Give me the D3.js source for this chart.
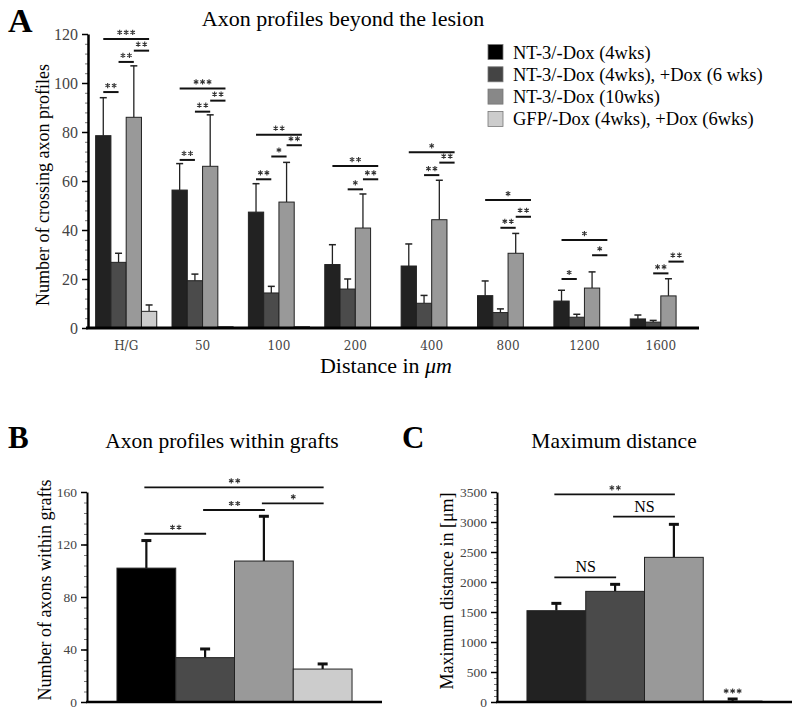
<!DOCTYPE html>
<html>
<head>
<meta charset="utf-8">
<script src="https://cdn.jsdelivr.net/npm/d3@7"></script>
<style>
  body { margin: 0; background: #fff; }
  svg { font-family: "Liberation Serif", "Times New Roman", serif; }
  .tick text { fill: #444; font-family: "Liberation Serif", serif; }
</style>
</head>
<body>
<svg id="fig" width="800" height="714"></svg>
<script>
// ---- dados ----
const distancias = ["H/G", "50", "100", "200", "400", "800", "1200", "1600"];
const grupos = ["NT-3/-Dox (4wks)", "NT-3/-Dox (4wks), +Dox (6 wks)", "NT-3/-Dox (10wks)", "GFP/-Dox (4wks), +Dox (6wks)"];
const coresBarras = ["#222222", "#4b4b4b", "#999999", "#cccccc"];
const coresLegenda = ["#000000", "#444444", "#888888", "#cccccc"];

// painel A: média e erro (apenas para cima)
const mediaNT3_4 = [78.5, 56.3, 47.3, 25.9, 25.3, 13.2, 11.0, 3.7];
const erroNT3_4 = [15.5, 10.8, 11.6, 8.1, 9.0, 6.0, 4.4, 1.6];
const mediaNT3_4_6 = [26.8, 19.3, 14.3, 15.9, 10.1, 6.3, 4.4, 2.4];
const erroNT3_4_6 = [3.7, 2.7, 2.7, 4.1, 3.2, 1.5, 1.2, 0.7];
const mediaNT3_10 = [86.0, 66.0, 51.4, 40.8, 44.2, 30.5, 16.3, 13.1];
const erroNT3_10 = [21.0, 21.0, 16.2, 13.9, 16.1, 8.1, 6.6, 7.0];
const mediaGFP = [6.8, 0.5, 0.5, 0, 0, 0, 0, 0];
const erroGFP = [2.6, 0.3, 0.3, 0, 0, 0, 0, 0];

// [distância, barra de, barra até, altura, rótulo]
const colchetesA = [
  [0, 0, 1, 96.3, "**"], [0, 1, 2, 108.6, "**"], [0, 2, 3, 113.2, "**"], [0, 0, 3, 118, "***"],
  [1, 0, 1, 68.6, "**"], [1, 1, 2, 88.3, "**"], [1, 2, 3, 92.8, "**"], [1, 0, 3, 97.8, "***"],
  [2, 0, 1, 60.7, "**"], [2, 1, 2, 70, "*"], [2, 2, 3, 74.6, "**"], [2, 0, 3, 78.9, "**"],
  [3, 1, 2, 56.6, "*"], [3, 2, 3, 60.7, "**"], [3, 0, 3, 66.1, "**"],
  [4, 1, 2, 62.4, "**"], [4, 2, 3, 67.5, "**"], [4, 0, 3, 71.7, "*"],
  [5, 1, 2, 40.9, "**"], [5, 2, 3, 45.4, "**"], [5, 0, 3, 52.2, "*"],
  [6, 0, 1, 20, "*"], [6, 2, 3, 29.7, "*"], [6, 0, 3, 35.9, "*"],
  [7, 1, 2, 22.3, "**"], [7, 2, 3, 27.1, "**"]
];

// painel B
const mediaB = [102, 33.8, 107.4, 25.1];
const erroB = [21, 6.6, 34.1, 3.9];
const colchetesB = [[0, 1, 128.2, "**"], [1, 2, 146.3, "**"], [2, 3, 151.4, "*"], [0, 3, 163.6, "**"]];

// painel C
const mediaC = [1522, 1844, 2411, 15];
const erroC = [122, 117, 550, 35];
const colchetesC = [[0, 2, 3461, "**"], [1, 2, 3089, "NS"], [0, 1, 2078, "NS"]];

const svg = d3.select("#fig");

// eixo y com marcas maiores e menores
function eixoY(g, y, x0, maiores, menores, larg, tamFonte) {
  g.append("g")
    .attr("transform", `translate(${x0},0)`)
    .call(d3.axisLeft(y).tickValues(menores).tickSize(3).tickFormat(""))
    .call(s => s.select(".domain").remove())
    .call(s => s.selectAll("line").attr("stroke", "#555").attr("stroke-width", 0.8));
  g.append("g")
    .attr("transform", `translate(${x0},0)`)
    .call(d3.axisLeft(y).tickValues(maiores).tickSize(6).tickSizeOuter(0).tickFormat(d3.format("d")))
    .call(s => s.select(".domain").attr("stroke-width", larg))
    .call(s => s.selectAll(".tick line").attr("stroke-width", 1.5))
    .call(s => s.selectAll("text").attr("font-size", tamFonte).attr("dx", "-1"));
}

// asteriscos desenhados como pequenos traços (ficam cinza, sem franjas de cor)
function estrelas(g, x, y, rotulo, tam) {
  if (rotulo === "NS") {
    g.append("text").attr("x", x).attr("y", y).attr("text-anchor", "middle")
      .attr("font-size", tam).text(rotulo);
    return;
  }
  const n = rotulo.length, passo = 6.5, r = 2.6;
  const p = d3.path();
  d3.range(n).forEach(i => {
    const cx = x + (i - (n - 1) / 2) * passo, cy = y - 4;
    [90, 30, 150].forEach(a => {
      const rad = a * Math.PI / 180;
      p.moveTo(cx - r * Math.cos(rad), cy - r * Math.sin(rad));
      p.lineTo(cx + r * Math.cos(rad), cy + r * Math.sin(rad));
    });
  });
  g.append("path").attr("d", p.toString()).attr("stroke", "#333").attr("stroke-width", 1.1).attr("fill", "none");
}

// ================= Painel A =================
const gA = svg.append("g");
const yA = d3.scaleLinear().domain([0, 120]).range([328, 34]);
const xA = d3.scaleBand().domain(distancias).range([88, 699]).paddingInner(0.2).paddingOuter(0.1);
const xAi = d3.scaleBand().domain(d3.range(4)).range([0, xA.bandwidth()]);

const medias = [mediaNT3_4, mediaNT3_4_6, mediaNT3_10, mediaGFP];
const erros = [erroNT3_4, erroNT3_4_6, erroNT3_10, erroGFP];

const linhasA = distancias.flatMap((d, i) => d3.range(4).map(k => ({
  d, k, m: medias[k][i], e: erros[k][i]
})));

// barras de erro
gA.append("g").selectAll("g")
  .data(linhasA.filter(r => r.e > 0.5))
  .join("g")
  .each(function (r) {
    const cx = xA(r.d) + xAi(r.k) + xAi.bandwidth() / 2;
    const s = d3.select(this);
    s.append("line").attr("x1", cx).attr("x2", cx)
      .attr("y1", yA(r.m)).attr("y2", yA(r.m + r.e))
      .attr("stroke", "#222").attr("stroke-width", 1.3);
    s.append("line").attr("x1", cx - 3.5).attr("x2", cx + 3.5)
      .attr("y1", yA(r.m + r.e)).attr("y2", yA(r.m + r.e))
      .attr("stroke", "#222").attr("stroke-width", 1.5);
  });

gA.append("g").selectAll("rect")
  .data(linhasA.filter(r => r.m > 0))
  .join("rect")
  .attr("x", r => xA(r.d) + xAi(r.k))
  .attr("y", r => yA(r.m))
  .attr("width", xAi.bandwidth())
  .attr("height", r => yA(0) - yA(r.m))
  .attr("fill", r => coresBarras[r.k])
  .attr("stroke", "#222")
  .attr("stroke-width", 1);

// colchetes de significância
colchetesA.forEach(([i, a, b, v, rot]) => {
  const x1 = xA(distancias[i]) + xAi(a) + xAi.bandwidth() / 2;
  const x2 = xA(distancias[i]) + xAi(b) + xAi.bandwidth() / 2;
  gA.append("line").attr("x1", x1).attr("x2", x2)
    .attr("y1", yA(v)).attr("y2", yA(v))
    .attr("stroke", "#111").attr("stroke-width", 2);
  estrelas(gA, (x1 + x2) / 2, yA(v) - 2.5, rot, 11);
});

eixoY(gA, yA, 88, d3.range(0, 121, 20), d3.range(0, 121, 4), 2.5, 16);

gA.append("g")
  .attr("transform", `translate(0,${yA(0)})`)
  .call(d3.axisBottom(xA).tickSize(0).tickSizeOuter(0))
  .call(s => s.select(".domain").attr("stroke-width", 3).attr("d", "M86,0H699"))
  .call(s => s.selectAll("text").attr("dy", "1.6em").style("font-family", "DejaVu Serif").attr("font-size", 12));

gA.append("text").attr("x", 8).attr("y", 32).attr("font-size", 34).attr("font-weight", "bold").text("A");
gA.append("text").attr("x", 343).attr("y", 26).attr("text-anchor", "middle").attr("font-size", 22).text("Axon profiles beyond the lesion");
gA.append("text")
  .attr("transform", "translate(49,185) rotate(-90)")
  .attr("text-anchor", "middle").attr("font-size", 18)
  .text("Number of crossing axon profiles");
const rotX = gA.append("text").attr("x", 386).attr("y", 373).attr("text-anchor", "middle").attr("font-size", 22);
rotX.append("tspan").text("Distance in ");
rotX.append("tspan").attr("font-style", "italic").text("μm");

// legenda
const leg = gA.append("g").selectAll("g").data(grupos).join("g")
  .attr("transform", (d, i) => `translate(488,${52 + i * 22.3})`);
leg.append("rect").attr("x", 0).attr("y", -7.5).attr("width", 15).attr("height", 15)
  .attr("fill", (d, i) => coresLegenda[i]).attr("stroke", "#777").attr("stroke-width", 0.8);
leg.append("text").attr("x", 25).attr("y", 6.5).attr("font-size", 18.5).text(d => d);

// ================= Painéis B e C =================
function painelBarras(cfg) {
  const g = svg.append("g");
  const y = d3.scaleLinear().domain([0, cfg.max]).range([702, 492]);
  const x = d3.scaleBand().domain(d3.range(4)).range([cfg.x0, cfg.x1]).paddingInner(0).paddingOuter(0.51);
  const cx = i => x(i) + x.bandwidth() / 2;

  g.selectAll(".err").data(cfg.medias).join("g").each(function (m, i) {
    const s = d3.select(this);
    const topo = y(m + cfg.erros[i]);
    s.append("line").attr("x1", cx(i)).attr("x2", cx(i)).attr("y1", y(m)).attr("y2", topo)
      .attr("stroke", "#111").attr("stroke-width", 2.2);
    s.append("line").attr("x1", cx(i) - 5).attr("x2", cx(i) + 5).attr("y1", topo).attr("y2", topo)
      .attr("stroke", "#111").attr("stroke-width", 3);
  });

  g.selectAll("rect").data(cfg.medias).join("rect")
    .attr("x", (d, i) => x(i)).attr("y", d => y(d))
    .attr("width", x.bandwidth()).attr("height", d => y(0) - y(d))
    .attr("fill", (d, i) => cfg.cores[i]).attr("stroke", "#222").attr("stroke-width", 1);

  cfg.colchetes.forEach(([a, b, v, rot]) => {
    g.append("line").attr("x1", cx(a) - 2).attr("x2", cx(b) + 1).attr("y1", y(v)).attr("y2", y(v))
      .attr("stroke", "#111").attr("stroke-width", 1.8);
    estrelas(g, (cx(a) + cx(b)) / 2, y(v) - (rot === "NS" ? 5 : 2.5), rot, rot === "NS" ? 16 : 11);
  });

  eixoY(g, y, cfg.x0, cfg.maiores, cfg.menores, 2, 13.5);

  g.append("line").attr("x1", cfg.x0 - 1).attr("x2", cfg.x1).attr("y1", y(0)).attr("y2", y(0))
    .attr("stroke", "#000").attr("stroke-width", 2.5);

  g.append("text").attr("x", cfg.lx).attr("y", 448).attr("font-size", 31).attr("font-weight", "bold").text(cfg.letra);
  g.append("text").attr("x", cfg.tx).attr("y", 448).attr("text-anchor", "middle").attr("font-size", 21.5).text(cfg.titulo);
  g.append("text")
    .attr("transform", `translate(${cfg.ly},${cfg.cy}) rotate(-90)`)
    .attr("text-anchor", "middle").attr("font-size", 18).text(cfg.rotuloY);
  return { g, y, cx };
}

painelBarras({
  letra: "B", lx: 8, titulo: "Axon profiles within grafts", tx: 222,
  rotuloY: "Number of axons within grafts", ly: 51, cy: 590,
  x0: 87, x1: 382, max: 160,
  maiores: d3.range(0, 161, 40), menores: d3.range(0, 161, 8),
  medias: mediaB, erros: erroB, colchetes: colchetesB,
  cores: ["#000000", "#4a4a4a", "#999999", "#cccccc"]
});

const pC = painelBarras({
  letra: "C", lx: 402, titulo: "Maximum distance", tx: 614,
  rotuloY: "Maximum distance in [μm]", ly: 453, cy: 591,
  x0: 497, x1: 792, max: 3500,
  maiores: d3.range(0, 3501, 500), menores: d3.range(0, 3501, 100),
  medias: mediaC, erros: erroC, colchetes: colchetesC,
  cores: ["#222222", "#4a4a4a", "#999999", "#cccccc"]
});
estrelas(pC.g, pC.cx(3), 695, "***", 11);
</script>
</body>
</html>
